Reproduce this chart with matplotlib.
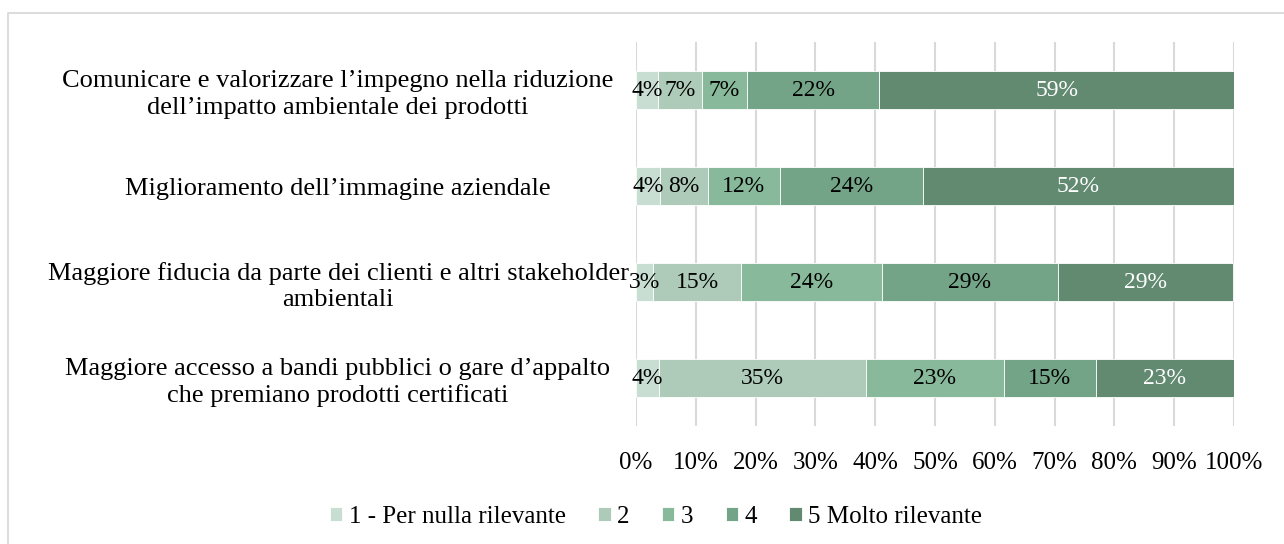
import matplotlib
matplotlib.use("Agg")
import matplotlib.pyplot as plt
from matplotlib.lines import Line2D
import matplotlib.transforms as mtransforms
import numpy as np

plt.rcParams['font.family'] = ['Liberation Serif', 'DejaVu Serif']

categories = [
    "Comunicare e valorizzare l\u2019impegno nella riduzione\ndell\u2019impatto ambientale dei prodotti",
    "Miglioramento dell\u2019immagine aziendale",
    "Maggiore fiducia da parte dei clienti e altri stakeholder\nambientali",
    "Maggiore accesso a bandi pubblici o gare d\u2019appalto\nche premiano prodotti certificati",
]
series_names = ["1 - Per nulla rilevante", "2", "3", "4", "5 Molto rilevante"]
# percentages per category (top to bottom), one list per series
s1 = [3.7, 4.0, 2.9, 3.8]
s2 = [7.4, 8.0, 14.7, 34.6]
s3 = [7.4, 12.0, 23.5, 23.1]
s4 = [22.2, 24.0, 29.4, 15.4]
s5 = [59.3, 52.0, 29.4, 23.1]
series = [s1, s2, s3, s4, s5]
colors = ["#C8DED2", "#ADCBB8", "#87B99A", "#74A487", "#618A71"]
label_colors = ["black", "black", "black", "black", "white"]
xticks = [0, 10, 20, 30, 40, 50, 60, 70, 80, 90, 100]

W, H = 1284, 544
fig = plt.figure(figsize=(W / 100, H / 100), dpi=100)
ax = fig.add_axes([636 / W, 1 - 426 / H, (1234 - 636) / W, (426 - 42) / H])

y = np.arange(len(categories))
left = np.zeros(len(categories))
for vals, name, c, lc in zip(series, series_names, colors, label_colors):
    vals = np.array(vals)
    ax.barh(y, vals, left=left, height=0.4, color=c, label=name,
            edgecolor='white', linewidth=0.6, zorder=3)
    for xi, yi, v in zip(left, y, vals):
        ax.text(xi + v / 2, yi, f"{round(v):.0f}%", ha='center', va='center',
                fontsize=17, color=lc, zorder=4)
    left = left + vals

ax.set_ylim(len(categories) - 0.5, -0.5)
ax.set_xlim(0, 100)
ax.set_yticks(y)
ax.set_yticklabels(categories, fontsize=19, ha='center', multialignment='center',
                   linespacing=1.25)
ax.tick_params(axis='y', length=0, pad=0)
offset = mtransforms.ScaledTranslation((338 - 636) / 100, 0, fig.dpi_scale_trans)
for lbl in ax.get_yticklabels():
    lbl.set_transform(lbl.get_transform() + offset)

ax.set_xticks(xticks)
ax.set_xticklabels([f"{t}%" for t in xticks], fontsize=18)
ax.tick_params(axis='x', length=0, pad=19)
ax.grid(axis='x', color='#D9D9D9', linewidth=1.5, zorder=0)
for s in ax.spines.values():
    s.set_visible(False)

fig.legend(loc='center', bbox_to_anchor=(656 / W, 1 - 517 / H), ncol=5,
           frameon=False, fontsize=18, handlelength=0.5, handleheight=0.5,
           handletextpad=0.25, columnspacing=1.3)

# outer chart border (top and left visible)
fig.add_artist(Line2D([8 / W, 8 / W, 1.0], [0.0, 1 - 13 / H, 1 - 13 / H],
                      transform=fig.transFigure, color='#D9D9D9', linewidth=1.3))

fig.savefig("out.png", dpi=100)
